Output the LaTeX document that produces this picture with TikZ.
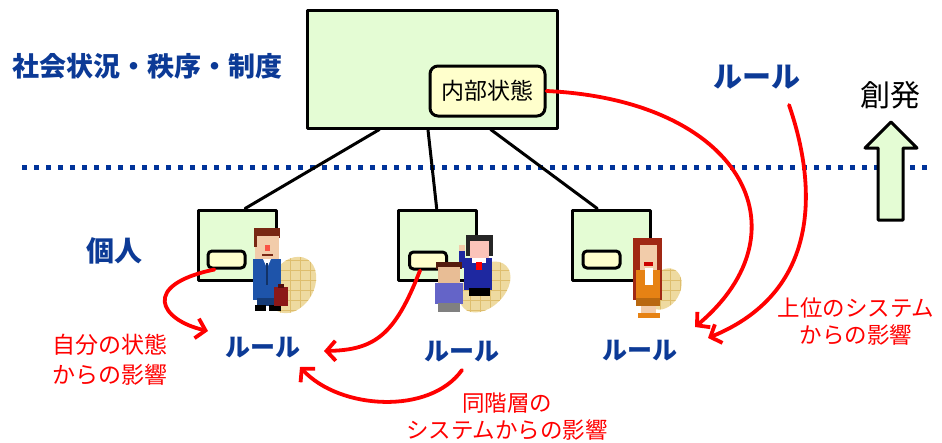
\documentclass[tikz,border=0pt]{standalone}
\usepackage{fontspec}
\setmainfont{Noto Sans CJK JP}
\usetikzlibrary{arrows.meta,calc}

\definecolor{boxgreen}{RGB}{228,252,212}
\definecolor{boxyellow}{RGB}{255,255,204}
\definecolor{labelblue}{RGB}{12,58,150}
\definecolor{dotblue}{RGB}{0,51,153}
\definecolor{leaftan}{RGB}{238,218,160}
\definecolor{leafline}{RGB}{222,190,110}
\definecolor{skin}{RGB}{242,204,170}
\definecolor{hairbrown}{RGB}{120,40,20}
\definecolor{suitblue}{RGB}{30,84,170}
\definecolor{bagred}{RGB}{140,24,24}
\definecolor{dressblue}{RGB}{30,40,160}
\definecolor{shirtblue}{RGB}{100,100,200}
\definecolor{hairred}{RGB}{160,40,20}
\definecolor{jacket}{RGB}{230,130,20}

\begin{document}
\begin{tikzpicture}[line cap=round,line join=round,x=1pt,y=-1pt,
  box/.style={draw,line width=3pt,fill=boxgreen,inner sep=0pt},
  statebox/.style={draw,line width=3pt,fill=boxyellow,rounded corners=4pt,inner sep=0pt},
  bluelabel/.style={text=labelblue,font=\bfseries\fontsize{27}{30}\selectfont,inner sep=0pt},
  rulelabel/.style={text=labelblue,font=\bfseries\fontsize{25}{28}\selectfont,inner sep=0pt},
  effectlabel/.style={text=red,font=\fontsize{22.5}{27}\selectfont,align=center,inner sep=0pt},
  effect/.style={draw=red,line width=3.8pt,-{Straight Barb[length=9pt,width=20pt]}},
  leafgrid/.style={leafline,line width=0.8pt}]
\useasboundingbox (0,0) rectangle (942,442);

% boundary between society and individuals
\draw[dotblue,line width=5pt,line cap=butt,dash pattern=on 5pt off 7pt] (22,167) -- (930,167);

% society
\draw(432, 69) node(society)[box,minimum width=250pt,minimum height=118pt] {};
\draw(487.5, 91) node(inner)[statebox,minimum width=115pt,minimum height=50pt,rounded corners=8pt,font=\fontsize{23}{26}\selectfont] {内部状態};
\draw(147.5, 66) node(societylabel)[bluelabel] {社会状況・秩序・制度};

% individuals
\draw(237, 245) node(ind1)[box,minimum width=78pt,minimum height=70pt] {};
\draw(437.5, 245) node(ind2)[box,minimum width=78pt,minimum height=70pt] {};
\draw(611, 245) node(ind3)[box,minimum width=78pt,minimum height=70pt] {};
\draw(226.5, 259.5) node(self1)[statebox,minimum width=37pt,minimum height=17pt] {};
\draw(428, 260.5) node(self2)[statebox,minimum width=37pt,minimum height=17pt] {};
\draw(601.5, 259.5) node(self3)[statebox,minimum width=37pt,minimum height=17pt] {};
\draw(114, 251) node(indlabel)[bluelabel,font=\bfseries\fontsize{28}{30}\selectfont] {個人};

\draw[line width=3pt] ($(society.south west)!0.292!(society.south east)$) -- ($(ind1.north west)!0.6!(ind1.north east)$);
\draw[line width=3pt] ($(society.south west)!0.484!(society.south east)$) -- ($(ind2.north west)!0.49!(ind2.north east)$);
\draw[line width=3pt] ($(society.south west)!0.732!(society.south east)$) -- ($(ind3.north west)!0.33!(ind3.north east)$);

% rules
\draw(757, 77) node(ruletop)[rulelabel,font=\bfseries\fontsize{29}{30}\selectfont] {ルール};
\draw(263, 348) node(rule1)[rulelabel] {ルール};
\draw(462, 352) node(rule2)[rulelabel] {ルール};
\draw(640, 351) node(rule3)[rulelabel] {ルール};

% emergence
\draw(890, 95) node(emerge)[inner sep=0pt,font=\fontsize{30}{32}\selectfont] {創発};
\draw[line width=3pt,fill=boxgreen] (878,220) -- (878,148) -- (865,148) -- (891,122) -- (917,148) -- (903,148) -- (903,220) -- cycle;

% background leaves
\begin{scope}
\clip[rotate around={60:(292,285)}] (292,285) ellipse [x radius=30, y radius=22];
\fill[leaftan] (250,250) rectangle (330,320);
\foreach \gx in {260,270,...,320} \draw[leafgrid] (\gx,250) -- (\gx,320);
\foreach \gy in {260,270,...,310} \draw[leafgrid] (250,\gy) -- (330,\gy);
\end{scope}
\begin{scope}
\clip[rotate around={45:(485,287)}] (485,287) ellipse [x radius=30, y radius=20];
\fill[leaftan] (450,250) rectangle (520,320);
\foreach \gx in {460,470,...,510} \draw[leafgrid] (\gx,250) -- (\gx,320);
\foreach \gy in {260,270,...,310} \draw[leafgrid] (450,\gy) -- (520,\gy);
\end{scope}
\begin{scope}
\clip[rotate around={60:(664,289)}] (664,289) ellipse [x radius=22, y radius=16];
\fill[leaftan] (630,260) rectangle (700,320);
\foreach \gx in {640,650,...,690} \draw[leafgrid] (\gx,260) -- (\gx,320);
\foreach \gy in {270,280,...,310} \draw[leafgrid] (630,\gy) -- (700,\gy);
\end{scope}

% businessman
\fill[hairbrown] (254,228) rectangle (280,238);
\fill[skin] (255,236) rectangle (279,259);
\fill[hairbrown] (254,234) rectangle (257,247);
\fill[red!60!skin] (265,245) rectangle (270,251);
\fill[hairbrown] (262,254) rectangle (273,256);
\fill[suitblue] (253,259) rectangle (281,300);
\fill[white] (263,259) -- (271,259) -- (267,268) -- cycle;
\fill[suitblue!60!black] (266,263) rectangle (268,285);
\fill[suitblue!70!black] (257,298) rectangle (278,306);
\fill[black] (255,305) rectangle (266,311);
\fill[black] (269,305) rectangle (281,311);
\fill[bagred] (274,287) rectangle (288,306);
\fill[bagred!60!black] (278,284) rectangle (284,288);

% schoolgirl
\fill[black!85] (466,235) rectangle (493,256);
\fill[pink!70!skin] (470,241) rectangle (489,258);
\fill[dressblue] (464,258) rectangle (492,290);
\fill[white] (472,258) rectangle (486,263);
\fill[red] (476,262) rectangle (482,270);
\fill[dressblue] (459,250) rectangle (465,268);
\fill[skin] (459,245) rectangle (465,251);
\fill[black] (469,288) rectangle (490,296);

% boy
\fill[hairbrown!70!black] (436,262) rectangle (462,269);
\fill[skin!80!brown] (438,267) rectangle (460,283);
\fill[shirtblue] (435,283) rectangle (463,304);
\fill[gray] (438,303) rectangle (460,312);

% woman
\fill[hairred] (633,238) rectangle (662,300);
\fill[skin] (640,245) rectangle (657,270);
\fill[red!80!black] (644,262) rectangle (653,266);
\fill[jacket] (636,270) rectangle (660,300);
\fill[white] (645,268) rectangle (653,285);
\fill[jacket!80!black] (636,298) rectangle (660,306);
\fill[skin] (641,306) rectangle (656,314);
\fill[jacket] (638,313) rectangle (660,318);

% influences
\draw(110, 360) node(selfeffect)[effectlabel,font=\fontsize{23}{30}\selectfont] {自分の状態\\からの影響};
\draw(507, 416.5) node(peereffect)[effectlabel] {同階層の\\システムからの影響};
\draw(856, 321.5) node(uppereffect)[effectlabel] {上位のシステム\\からの影響};

\coordinate (selftip) at (208,331);
\coordinate (peertip) at (324,351);
\coordinate (peerfrom) at (462,370);
\coordinate (sidetip) at (300,367);
\coordinate (innertip) at (695,327);
\coordinate (rulefrom) at (789,105);
\coordinate (ruletip) at (708,338);

\draw[effect] ($(self1.south west)!0.2!(self1.south east)$) .. controls (140,285) and (160,320) .. (selftip);
\draw[effect] ($(self2.south west)!0.3!(self2.south east)$) .. controls (395,335) and (375,350) .. (peertip);
\draw[effect] (peerfrom) .. controls (430,415) and (340,410) .. (sidetip);
\draw[effect] (inner.east) .. controls (740,100) and (810,230) .. (innertip);
\draw[effect] (rulefrom) .. controls (815,180) and (825,290) .. (ruletip);
\end{tikzpicture}
\end{document}
